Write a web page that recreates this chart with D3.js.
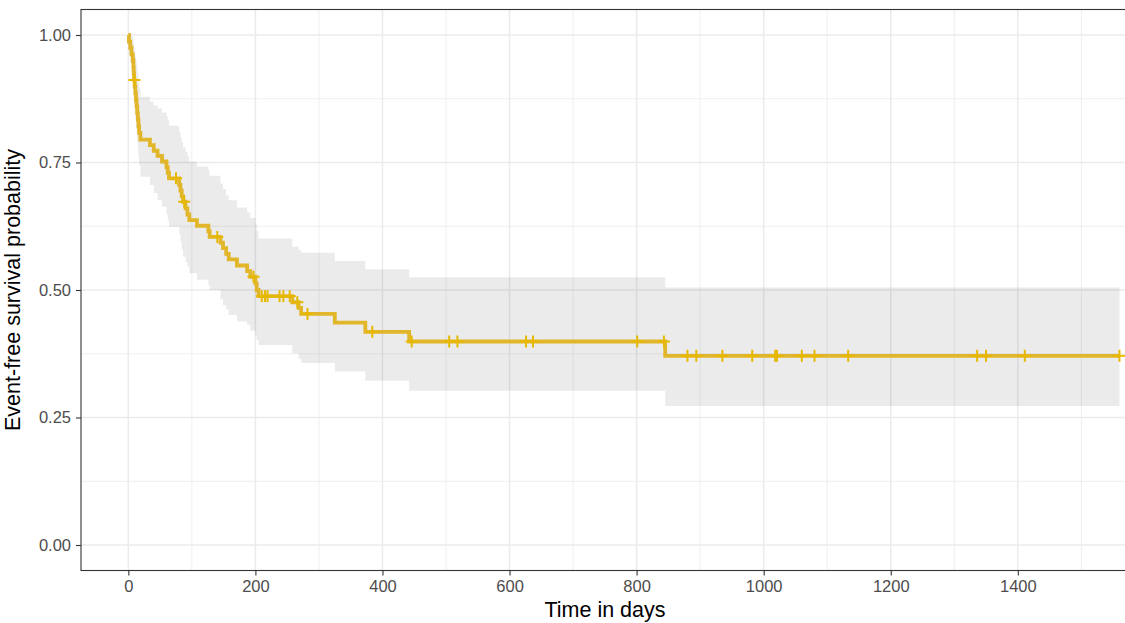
<!DOCTYPE html>
<html>
<head>
<meta charset="utf-8">
<script src="https://cdn.jsdelivr.net/npm/d3@7"></script>
<style>
  html, body { margin: 0; padding: 0; background: #fff; }
  svg { display: block; font-family: "Liberation Sans", Arial, sans-serif; }
</style>
</head>
<body>
<svg id="chart" width="1125" height="623"></svg>
<script>
// ---- data ----
const eventTimes = [0,1,3,5,7,8,8.5,9,10,11,12,13,14,15,16,17,19,34,40,46,53,60,62,64,80,82,84,86,90,93,96,108,126,128,145,149,154,158,171,187,192,200,202,205,258,268,272,325,373,442,845];
const survival = [1,0.987,0.975,0.962,0.950,0.937,0.925,0.912,0.899,0.886,0.873,0.860,0.847,0.834,0.821,0.808,0.795,0.784,0.773,0.763,0.752,0.741,0.730,0.719,0.706,0.695,0.684,0.673,0.660,0.648,0.637,0.626,0.615,0.604,0.593,0.582,0.571,0.560,0.548,0.537,0.526,0.513,0.500,0.488,0.476,0.465,0.453,0.436,0.418,0.399,0.371];
const upperCI = [1,1,1,0.998,0.993,0.988,0.982,0.975,0.968,0.960,0.952,0.943,0.934,0.924,0.912,0.898,0.879,0.869,0.862,0.856,0.848,0.841,0.833,0.822,0.810,0.800,0.790,0.780,0.771,0.762,0.752,0.742,0.735,0.724,0.709,0.698,0.686,0.676,0.662,0.652,0.641,0.630,0.616,0.601,0.585,0.578,0.573,0.557,0.5405,0.525,0.505];
const lowerCI = [1,0.962,0.945,0.928,0.912,0.896,0.880,0.864,0.848,0.833,0.818,0.803,0.789,0.774,0.760,0.745,0.722,0.706,0.690,0.676,0.663,0.648,0.636,0.624,0.610,0.595,0.580,0.565,0.555,0.546,0.533,0.520,0.510,0.500,0.482,0.470,0.462,0.451,0.438,0.432,0.420,0.410,0.402,0.392,0.376,0.365,0.357,0.340,0.322,0.3025,0.2725];
const censorTimes = [9.5,75,88,140,197,210,215,219,238,244,254,266,282,384,446,505,518,626,637,801,843,880,894,935,982,1018,1021,1060,1080,1133,1336,1350,1411,1560];
const endTime = 1560;
const xTicks = [0,200,400,600,800,1000,1200,1400];
const xMinorTicks = [100,300,500,700,900,1100,1300,1500];
const yTicks = [0,0.25,0.5,0.75,1];
const yMinorTicks = [0.125,0.375,0.625,0.875];
const xTitle = "Time in days";
const yTitle = "Event-free survival probability";
const curveColor = "#E7B800";

// ---- layout ----
const panel = {left: 81, top: 9.5, right: 1129, bottom: 570.5};
const svg = d3.select("#chart");
const x = d3.scaleLinear().domain([-74.5, 1575]).range([panel.left, panel.right]);
const y = d3.scaleLinear().domain([-0.05, 1.05]).range([panel.bottom, panel.top]);

svg.append("defs").append("clipPath").attr("id", "clip")
  .append("rect").attr("x", panel.left).attr("y", panel.top)
  .attr("width", panel.right - panel.left).attr("height", panel.bottom - panel.top);

const grid = svg.append("g");
grid.selectAll(".xminor").data(xMinorTicks).join("line")
  .attr("x1", d => x(d)).attr("x2", d => x(d)).attr("y1", panel.top).attr("y2", panel.bottom)
  .attr("stroke", "#EBEBEB").attr("stroke-width", 0.8);
grid.selectAll(".yminor").data(yMinorTicks).join("line")
  .attr("y1", d => y(d)).attr("y2", d => y(d)).attr("x1", panel.left).attr("x2", panel.right)
  .attr("stroke", "#EBEBEB").attr("stroke-width", 0.8);
grid.selectAll(".xmajor").data(xTicks).join("line")
  .attr("x1", d => x(d)).attr("x2", d => x(d)).attr("y1", panel.top).attr("y2", panel.bottom)
  .attr("stroke", "#EBEBEB").attr("stroke-width", 1.5);
grid.selectAll(".ymajor").data(yTicks).join("line")
  .attr("y1", d => y(d)).attr("y2", d => y(d)).attr("x1", panel.left).attr("x2", panel.right)
  .attr("stroke", "#EBEBEB").attr("stroke-width", 1.5);

// step data
const steps = eventTimes.map((t, i) => ({t, s: survival[i], u: upperCI[i], l: lowerCI[i]}));
steps.push({t: endTime, s: survival[survival.length-1], u: upperCI[upperCI.length-1], l: lowerCI[lowerCI.length-1]});

const plot = svg.append("g").attr("clip-path", "url(#clip)");

const area = d3.area().curve(d3.curveStepAfter)
  .x(d => x(d.t)).y0(d => y(d.l)).y1(d => y(d.u));
plot.append("path").datum(steps).attr("d", area)
  .attr("fill", "#000").attr("fill-opacity", 0.078);

const line = d3.line().curve(d3.curveStepAfter).x(d => x(d.t)).y(d => y(d.s));
plot.append("path").datum(steps).attr("d", line)
  .attr("fill", "none").attr("stroke", "#E2B62A").attr("stroke-width", 3.8)
  .attr("stroke-linejoin", "miter");

function survAt(t) {
  const i = d3.bisectRight(eventTimes, t) - 1;
  return survival[Math.max(0, i)];
}
const cg = plot.append("g").attr("stroke", curveColor).attr("stroke-width", 2);
censorTimes.forEach(t => {
  const cx = x(t), cy = y(survAt(t));
  cg.append("line").attr("x1", cx - 6).attr("x2", cx + 6).attr("y1", cy).attr("y2", cy);
  cg.append("line").attr("x1", cx).attr("x2", cx).attr("y1", cy - 6).attr("y2", cy + 6);
});

// panel border
svg.append("rect").attr("x", panel.left).attr("y", panel.top)
  .attr("width", panel.right - panel.left).attr("height", panel.bottom - panel.top)
  .attr("fill", "none").attr("stroke", "#333333").attr("stroke-width", 1.1);

// axes
const xAxis = svg.append("g").attr("transform", `translate(0,${panel.bottom})`)
  .call(d3.axisBottom(x).tickValues(xTicks).tickFormat(d3.format("d")).tickSizeOuter(0).tickSize(5).tickPadding(5));
const yAxis = svg.append("g").attr("transform", `translate(${panel.left},0)`)
  .call(d3.axisLeft(y).tickValues(yTicks).tickFormat(d3.format(".2f")).tickSizeOuter(0).tickSize(5).tickPadding(5));
[xAxis, yAxis].forEach(a => {
  a.select(".domain").remove();
  a.selectAll(".tick line").attr("stroke", "#333333").attr("stroke-width", 1.1);
  a.selectAll(".tick text").attr("fill", "#4D4D4D").style("font-size", "16.5px")
    .style("font-family", "'Liberation Sans', Arial, sans-serif");
});

svg.append("text").attr("x", (panel.left + panel.right) / 2).attr("y", 616.5)
  .attr("text-anchor", "middle").attr("fill", "#000").style("font-size", "21.5px")
  .text(xTitle);
svg.append("text").attr("transform", `translate(19.5,${(panel.top + panel.bottom) / 2}) rotate(-90)`)
  .attr("text-anchor", "middle").attr("fill", "#000").style("font-size", "21.5px")
  .text(yTitle);
</script>
</body>
</html>
